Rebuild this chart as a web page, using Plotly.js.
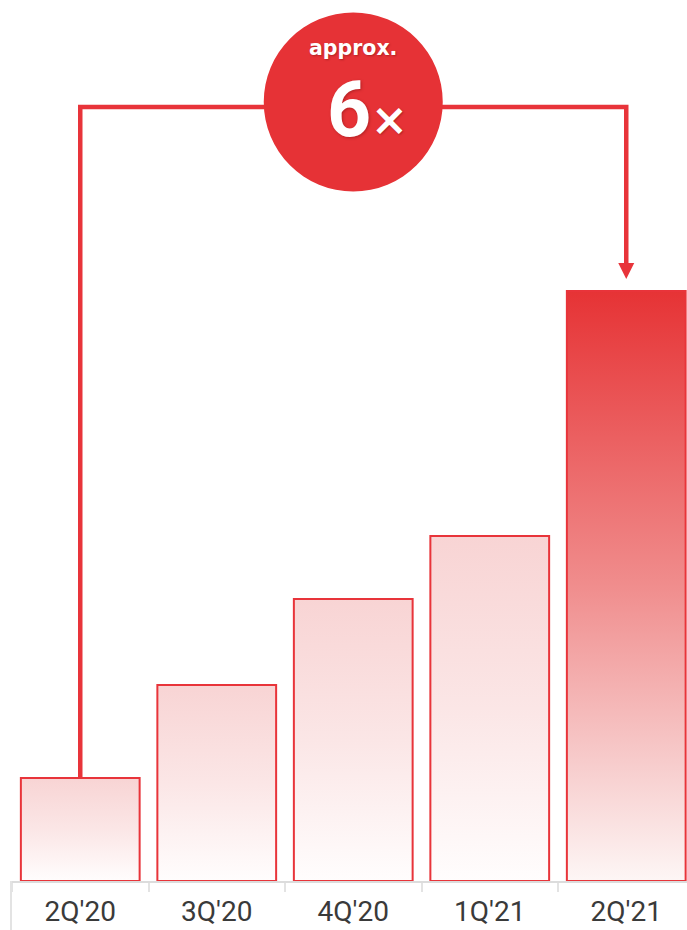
<!DOCTYPE html>
<html>
<head>
<meta charset="utf-8">
<script src="https://cdn.plot.ly/plotly-3.0.1.min.js"></script>
<style>
html,body{margin:0;padding:0;background:#fff;}
#chart{width:687px;height:930px;}
</style>
</head>
<body>
<div id="chart"></div>
<script>
// Data (relative values)
const quarters = ["2Q'20", "3Q'20", "4Q'20", "1Q'21", "2Q'21"];
const values = [103, 196, 282, 345, 590];
const barColors = ["#f9dada", "#f9dada", "#f9dada", "#f9dada", "#e83536"];
const badgeTop = "approx.";
const badgeNum = "6";
const badgeMult = "×";

const RED = "#e8343a";
const yTop = 881;          // axis range top (data units)
const bracketY = 774;      // height of connector line (data units)
const arrowTip = 602;      // arrow tip height (data units)

const trace = {
  type: "bar",
  x: quarters,
  y: values,
  width: 0.87,
  marker: { color: barColors, line: { color: RED, width: 2 } },
  hoverinfo: "skip"
};

const layout = {
  width: 687, height: 930,
  margin: { l: 12, r: 0, t: 0, b: 49 },
  paper_bgcolor: "#fff", plot_bgcolor: "#fff",
  showlegend: false,
  xaxis: {
    type: "category",
    range: [-0.5, -0.5 + 675 / 136.5],
    showline: true, linecolor: "#dcdcdc", linewidth: 2,
    ticks: "outside", tickson: "boundaries", ticklen: 9, tickwidth: 2, tickcolor: "#e3e3e3",
    tickfont: { family: "Roboto, 'Noto Sans', sans-serif", size: 28, color: "#3a3a3a" },
    ticklabelstandoff: 4,
    showgrid: false, zeroline: false, fixedrange: true
  },
  yaxis: {
    range: [0, yTop], visible: false, fixedrange: true
  },
  shapes: [
    { type: "path", xref: "x", yref: "y",
      path: `M0,${values[0]} L0,${bracketY} L4,${bracketY} L4,${arrowTip + 12}`,
      line: { color: RED, width: 4.5 }, layer: "above" },
    { type: "path", xref: "x", yref: "y", xsizemode: "pixel", ysizemode: "pixel",
      xanchor: 4, yanchor: arrowTip,
      path: "M-8,16 L8,16 L0,0 Z",
      fillcolor: RED, line: { width: 0 }, layer: "above" },
    { type: "line", xref: "paper", yref: "paper",
      x0: -0.0015, x1: -0.0015, y0: 0, y1: -49 / 881,
      line: { color: "#e3e3e3", width: 2 } },
    { type: "circle", xref: "x", yref: "y",
      xsizemode: "pixel", ysizemode: "pixel",
      xanchor: 2, yanchor: yTop - 102,
      x0: -89.5, x1: 89.5, y0: -89.5, y1: 89.5,
      fillcolor: "#e63236", line: { width: 0 }, layer: "above" }
  ],
  annotations: [
    { xref: "x", yref: "y", x: 2, y: yTop - 48, text: badgeTop, showarrow: false,
      xanchor: "center", yanchor: "middle",
      font: { family: "'DejaVu Sans', sans-serif", size: 20.5, color: "#fff", weight: 700,
              shadow: "1px 1px 2px rgba(80,0,0,0.35)" } },
    { xref: "x", yref: "y", x: 2, xshift: -4, y: yTop - 110, text: badgeNum, showarrow: false,
      xanchor: "center", yanchor: "middle",
      font: { family: "Roboto, 'Liberation Sans', sans-serif", size: 77, color: "#fff", weight: 700,
              shadow: "1px 1px 3px rgba(80,0,0,0.35)" } },
    { xref: "x", yref: "y", x: 2, xshift: 36, y: yTop - 119, text: badgeMult, showarrow: false,
      xanchor: "center", yanchor: "middle",
      font: { family: "'DejaVu Sans', sans-serif", size: 44, color: "#fff", weight: 700,
              shadow: "1px 1px 2px rgba(80,0,0,0.35)" } }
  ]
};

Plotly.newPlot("chart", [trace], layout, { staticPlot: true, displayModeBar: false }).then(gd => {
  const svg = gd.querySelector(".main-svg");
  let defs = svg.querySelector("defs");
  if (!defs) { defs = document.createElementNS("http://www.w3.org/2000/svg", "defs"); svg.prepend(defs); }
  const mk = (id, stops) => {
    const g = document.createElementNS("http://www.w3.org/2000/svg", "linearGradient");
    g.setAttribute("id", id);
    g.setAttribute("x1", "0"); g.setAttribute("y1", "0");
    g.setAttribute("x2", "0"); g.setAttribute("y2", "1");
    stops.forEach(([o, c]) => {
      const s = document.createElementNS("http://www.w3.org/2000/svg", "stop");
      s.setAttribute("offset", o); s.setAttribute("stop-color", c);
      g.appendChild(s);
    });
    defs.appendChild(g);
  };
  mk("gPink", [["0", "#f8d4d4"], ["0.5", "#fbe6e6"], ["1", "#fffdfd"]]);
  mk("gRed", [["0", "#e63335"], ["0.5", "#f08d8d"], ["0.8", "#f7cccc"], ["1", "#fdf6f5"]]);
  const paths = gd.querySelectorAll(".bars .point path");
  paths.forEach((p, i) => {
    p.style.fill = i === paths.length - 1 ? "url(#gRed)" : "url(#gPink)";
  });
});
</script>
</body>
</html>
